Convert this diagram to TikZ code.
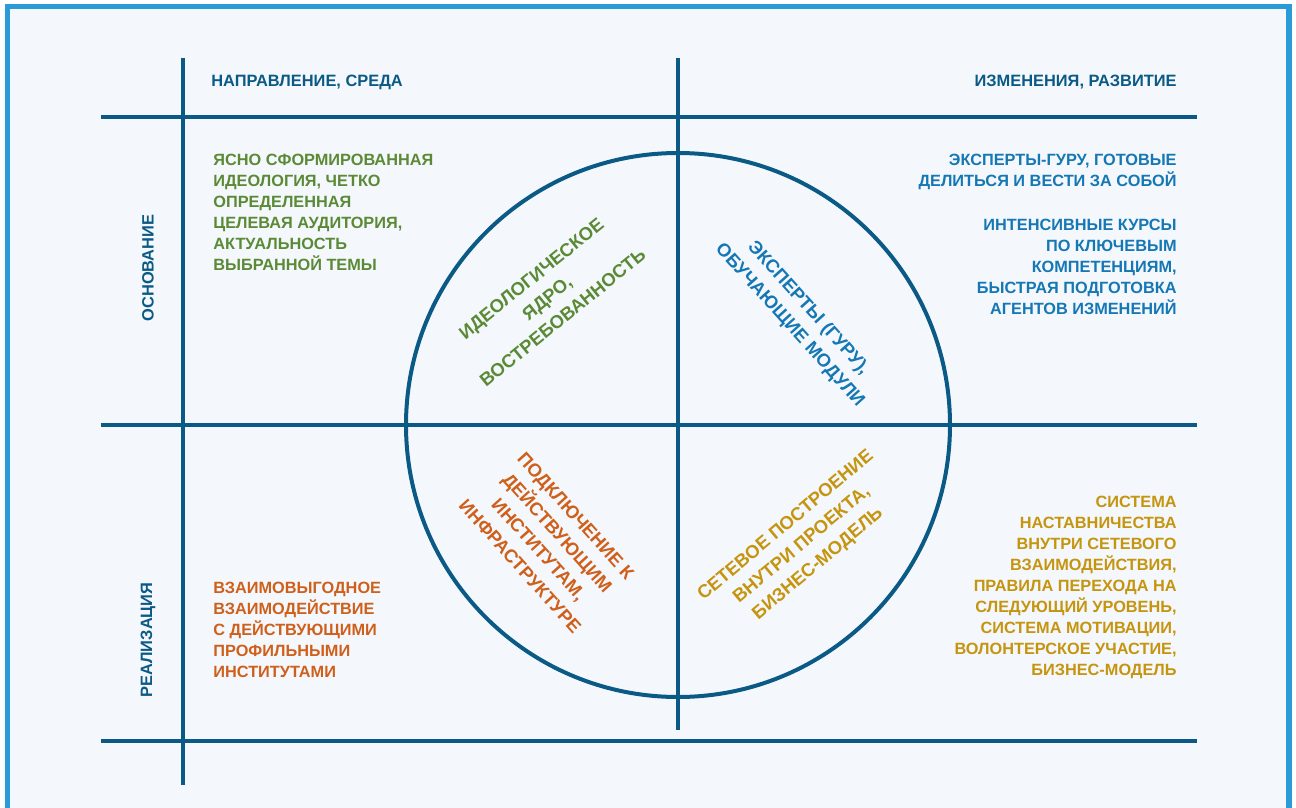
\documentclass[tikz,border=0pt]{standalone}
\usepackage{fontspec}
\setmainfont{Liberation Sans}
\usetikzlibrary{positioning}
\definecolor{frameblue}{HTML}{2B9BD8}
\definecolor{paper}{HTML}{F4F8FC}
\definecolor{gridblue}{HTML}{0B5A85}
\definecolor{leafgreen}{HTML}{5B8A36}
\definecolor{skyblue}{HTML}{1577B4}
\definecolor{rust}{HTML}{CF601C}
\definecolor{ochre}{HTML}{C6950F}
\tikzset{gridline/.style={draw=gridblue, line width=2pt}}
\tikzset{head/.style={text=gridblue, inner sep=0pt,
    font=\bfseries\fontsize{8.2}{10}\selectfont}}
\tikzset{body/.style={inner sep=0pt,
    font=\bfseries\fontsize{8.15}{10.5}\selectfont}}
\tikzset{core/.style={inner sep=0pt, align=center,
    font=\bfseries\fontsize{9.2}{12.5}\selectfont}}

\begin{document}
\begin{tikzpicture}[x=.5pt, y=-.5pt]
    \useasboundingbox (0,0) rectangle (1296,808);
    \fill[white] (0,0) rectangle (1296,808);
    \draw[frameblue, fill=paper, line width=2.75pt] (7.5,6.5) rectangle (1289,840);
    \draw[gridline] (183,58) -- (183,785);
    \draw[gridline] (678,58) -- (678,730);
    \draw[gridline] (101,117) -- (1197,117);
    \draw[gridline] (101,425) -- (1197,425);
    \draw[gridline] (101,741) -- (1197,741);
    \draw[gridline] (678,425) circle [radius=272];
    \node[head, anchor=west] (dir) at (211,82) {НАПРАВЛЕНИЕ, СРЕДА};
    \node[head, anchor=east] (chg) at (1177,82) {ИЗМЕНЕНИЯ, РАЗВИТИЕ};
    \node[head, rotate=90] (base) at (148,268) {ОСНОВАНИЕ};
    \node[head, rotate=90] (impl) at (148,640) {РЕАЛИЗАЦИЯ};
    \node[body, text=leafgreen, align=left, anchor=north west] (idea) at (213,154)
      {ЯСНО СФОРМИРОВАННАЯ\\ИДЕОЛОГИЯ, ЧЕТКО\\ОПРЕДЕЛЕННАЯ\\ЦЕЛЕВАЯ АУДИТОРИЯ,\\АКТУАЛЬНОСТЬ\\ВЫБРАННОЙ ТЕМЫ};
    \node[body, text=skyblue, align=right, anchor=north east] (guru) at (1177,154)
      {ЭКСПЕРТЫ-ГУРУ, ГОТОВЫЕ\\ДЕЛИТЬСЯ И ВЕСТИ ЗА СОБОЙ};
    \node[body, text=skyblue, align=right, anchor=north east] (course) at (1177,219)
      {ИНТЕНСИВНЫЕ КУРСЫ\\ПО КЛЮЧЕВЫМ\\КОМПЕТЕНЦИЯМ,\\БЫСТРАЯ ПОДГОТОВКА\\АГЕНТОВ ИЗМЕНЕНИЙ};
    \node[body, text=rust, align=left, anchor=north west] (inst) at (213,582)
      {ВЗАИМОВЫГОДНОЕ\\ВЗАИМОДЕЙСТВИЕ\\С ДЕЙСТВУЮЩИМИ\\ПРОФИЛЬНЫМИ\\ИНСТИТУТАМИ};
    \node[body, text=ochre, align=right, anchor=north east] (mentor) at (1177,496)
      {СИСТЕМА\\НАСТАВНИЧЕСТВА\\ВНУТРИ СЕТЕВОГО\\ВЗАИМОДЕЙСТВИЯ,\\ПРАВИЛА ПЕРЕХОДА НА\\СЛЕДУЮЩИЙ УРОВЕНЬ,\\СИСТЕМА МОТИВАЦИИ,\\ВОЛОНТЕРСКОЕ УЧАСТИЕ,\\БИЗНЕС-МОДЕЛЬ};
    \node[core, text=leafgreen, rotate=39] (ideacore) at (547,298)
      {ИДЕОЛОГИЧЕСКОЕ\\ЯДРО,\\ВОСТРЕБОВАННОСТЬ};
    \node[core, text=skyblue, rotate=-48] (gurucore) at (799,317)
      {ЭКСПЕРТЫ (ГУРУ),\\ОБУЧАЮЩИЕ МОДУЛИ};
    \node[core, text=rust, rotate=-48] (instcore) at (548,541)
      {ПОДКЛЮЧЕНИЕ К\\ДЕЙСТВУЮЩИМ\\ИНСТИТУТАМ,\\ИНФРАСТРУКТУРЕ};
    \node[core, text=ochre, rotate=40] (netcore) at (802,545)
      {СЕТЕВОЕ ПОСТРОЕНИЕ\\ВНУТРИ ПРОЕКТА,\\БИЗНЕС-МОДЕЛЬ};
\end{tikzpicture}
\end{document}
